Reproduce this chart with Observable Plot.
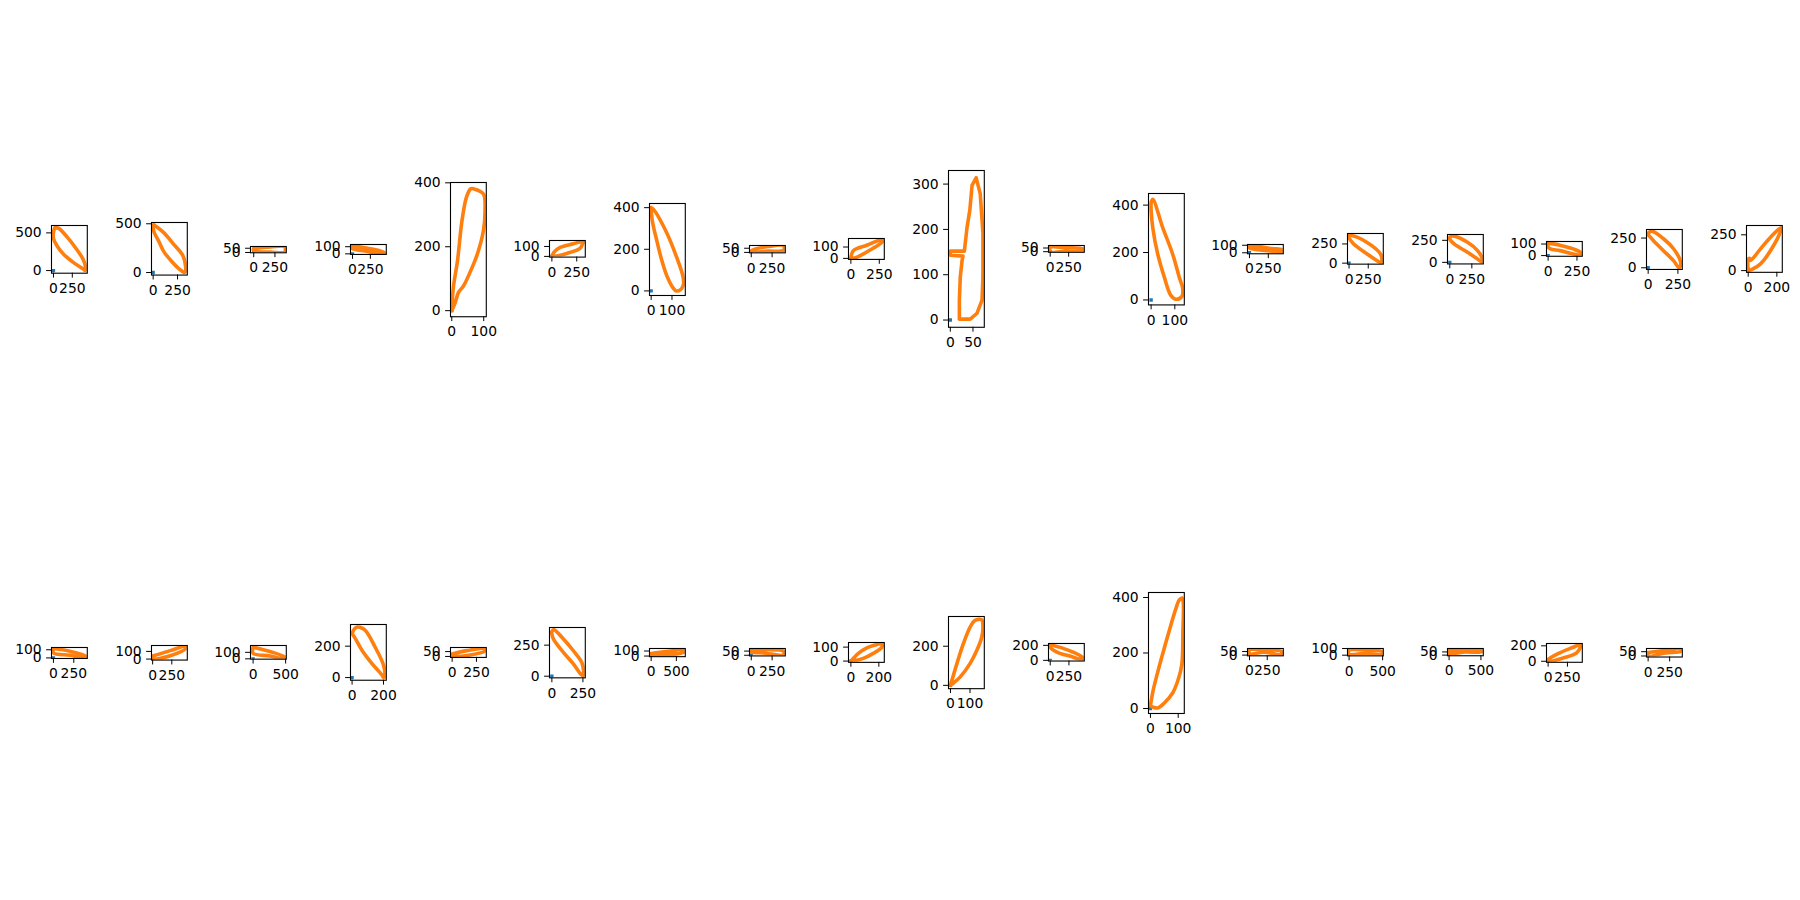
<!DOCTYPE html>
<html><head><meta charset="utf-8">
<script src="https://cdn.jsdelivr.net/npm/d3@7"></script>
<script src="https://cdn.jsdelivr.net/npm/@observablehq/plot@0.6"></script>
<style>
html,body{margin:0;padding:0;background:#fff;}
#chart{position:relative;width:1800px;height:900px;overflow:hidden;background:#fff;}
#chart svg{position:absolute;overflow:visible;max-width:none;}
#chart svg text{font-family:'DejaVu Sans',sans-serif;font-size:13.9px;fill:#000;}
</style></head><body><div id="chart"></div>
<script>
// ---- data: top row loops ----
const loopT01 = [[20,570],[70,560],[177,450],[307,283],[393,150],[427,40],[420,0],[393,22],[263,109],[134,218],[48,326],[0,427],[2,520],[20,570]];
const loopT02 = [[5,490],[111,407],[216,283],[303,177],[333,60],[330,10],[320,0],[268,36],[181,124],[111,212],[59,318],[6,424],[0,470],[5,490]];
const loopT03 = [[0,48],[200,66],[365,67],[365,5],[200,5],[0,22],[0,48]];
const loopT04 = [[0,118],[150,88],[360,50],[450,10],[440,0],[360,8],[150,45],[0,72],[0,118]];
const loopT05 = [[0,0],[5,73],[18,157],[32,282],[46,355],[59,381],[69,381],[99,365],[104,313],[99,250],[80,177],[64,136],[37,78],[21,57],[11,26],[0,0]];
const loopT06 = [[0,0],[20,40],[83,90],[216,127],[320,152],[310,130],[283,80],[150,30],[50,5],[0,0]];
const loopT07 = [[0,400],[11,392],[74,281],[122,163],[153,68],[155,30],[140,5],[120,0],[106,13],[74,76],[51,147],[27,242],[5,340],[0,400]];
const loopT08 = [[0,0],[0,20],[200,70],[387,80],[387,25],[200,15],[0,0]];
const loopT09 = [[0,0],[5,30],[23,70],[140,116],[280,167],[280,150],[169,73],[60,14],[10,0],[0,0]];
const loopT10 = [[20,2],[44,2],[59,15],[70,44],[72,95],[72,191],[66,279],[57,314],[48,297],[43,242],[37,205],[31,152],[0,152],[0,143],[28,141],[26,132],[22,95],[20,44],[20,2]];
const loopT11 = [[0,70],[200,55],[440,40],[440,12],[200,5],[0,0],[0,70]];
const loopT12 = [[0,410],[7,425],[49,305],[91,193],[119,95],[133,50],[130,15],[105,3],[84,18],[56,95],[28,193],[7,305],[0,380],[0,410]];
const loopT13 = [[0,100],[120,85],[300,55],[430,40],[430,5],[300,20],[120,40],[0,65],[0,100]];
const loopT14 = [[0,355],[30,360],[235,270],[410,120],[430,40],[425,5],[368,30],[235,120],[57,253],[0,330],[0,355]];
const loopT15 = [[0,285],[30,300],[201,228],[315,133],[365,50],[362,5],[315,38],[201,114],[49,210],[0,265],[0,285]];
const loopT16 = [[0,110],[102,90],[218,58],[282,25],[282,5],[218,14],[102,43],[20,58],[0,75],[0,110]];
const loopT17 = [[0,290],[29,308],[129,244],[215,158],[270,60],[272,15],[258,2],[215,58],[129,144],[43,230],[0,280],[0,290]];
const loopT18 = [[0,0],[0,80],[10,85],[16,70],[86,152],[156,233],[227,300],[227,280],[156,140],[86,47],[30,10],[0,0]];

// ---- data: bottom row loops ----
const loopB01 = [[0,115],[204,82],[396,22],[396,2],[204,32],[0,62],[0,115]];
const loopB02 = [[0,40],[230,110],[430,165],[430,135],[230,44],[10,0],[0,10],[0,40]];
const loopB03 = [[0,180],[260,112],[490,25],[485,0],[260,45],[0,85],[0,180]];
const loopB04 = [[0,280],[15,310],[35,322],[50,320],[85,300],[149,190],[200,80],[208,10],[200,0],[191,15],[127,89],[64,173],[21,248],[0,280]];
const loopB05 = [[0,25],[151,60],[334,80],[334,55],[151,10],[10,0],[0,5],[0,25]];
const loopB06 = [[0,360],[15,375],[93,299],[173,205],[240,112],[255,45],[252,5],[235,15],[173,99],[93,192],[13,299],[0,340],[0,360]];
const loopB07 = [[0,50],[306,90],[645,120],[645,75],[306,25],[10,0],[0,10],[0,50]];
const loopB08 = [[0,75],[150,68],[387,48],[387,5],[150,28],[0,40],[0,75]];
const loopB09 = [[0,0],[54,55],[114,95],[185,118],[222,125],[222,100],[160,55],[89,19],[20,2],[0,0]];
const loopB10 = [[0,0],[33,111],[66,213],[100,297],[126,332],[160,335],[166,306],[160,246],[135,179],[100,111],[49,42],[7,5],[0,0]];
const loopB11 = [[0,210],[180,157],[360,85],[435,35],[435,10],[270,54],[90,110],[0,175],[0,210]];
const loopB12 = [[0,10],[9,62],[27,134],[50,218],[74,302],[92,361],[104,391],[114,398],[118,385],[117,278],[113,158],[98,98],[80,56],[50,20],[27,2],[9,5],[0,10]];
const loopB13 = [[0,85],[200,80],[450,50],[450,10],[200,40],[0,20],[0,85]];
const loopB14 = [[0,90],[250,75],[490,55],[490,15],[250,30],[0,15],[0,90]];
const loopB15 = [[0,70],[250,85],[510,90],[510,55],[250,50],[0,25],[0,70]];
const loopB16 = [[0,0],[0,20],[152,110],[325,182],[420,220],[420,190],[369,108],[195,43],[30,0],[0,0]];
const loopB17 = [[0,40],[200,65],[380,85],[380,55],[200,35],[0,0],[0,40]];

// blue origin marker
const originPoint = [[0,0]];

// ---- axis domains and tick values ----
const topXDomains = [[-26,449],[-17,350],[-38,384],[-28,473],[-4,108],[-24,336],[-8,164],[-21,408],[-21,294],[-4,75],[-23,462],[-11,140],[-26,449],[-20,446],[-26,380],[-14,296],[-14,287],[-12,238]];
const topYDomains = [[-35,598],[-26,513],[-3.5,70.5],[-8,131],[-19,401],[-7,160],[-22,420],[-5,83],[-9,175],[-16,330],[-8,84],[-21,449],[-13,110],[-13,386],[-18,316],[-6,122],[-14,322],[-12,315]];
const botXDomains = [[-24,416],[-15,452],[-40,510],[-10,218],[-17,351],[-19,269],[-33,677],[-21,408],[-17,239],[-10,173],[-23,455],[-7,122],[-28,476],[-24,510],[-25,537],[-21,442],[-19,397]];
const botYDomains = [[-7,128],[-13,177],[-5,205],[-17,338],[-10,92],[-13,392],[-12,150],[-8,81],[-9,133],[-17,352],[-9,225],[-18,418],[-10,93],[-10,100],[-10,104],[-13,230],[-12,87]];

const topXTicks = [[0,250],[0,250],[0,250],[0,250],[0,100],[0,250],[0,100],[0,250],[0,250],[0,50],[0,250],[0,100],[0,250],[0,250],[0,250],[0,250],[0,250],[0,200]];
const topYTicks = [[0,500],[0,500],[0,50],[0,100],[0,200,400],[0,100],[0,200,400],[0,50],[0,100],[0,100,200,300],[0,50],[0,200,400],[0,100],[0,250],[0,250],[0,100],[0,250],[0,250]];
const botXTicks = [[0,250],[0,250],[0,500],[0,200],[0,250],[0,250],[0,500],[0,250],[0,200],[0,100],[0,250],[0,100],[0,250],[0,500],[0,500],[0,250],[0,250]];
const botYTicks = [[0,100],[0,100],[0,100],[0,200],[0,50],[0,250],[0,100],[0,50],[0,100],[0,200],[0,200],[0,200,400],[0,50],[0,100],[0,50],[0,200],[0,50]];

const topLoops = [loopT01,loopT02,loopT03,loopT04,loopT05,loopT06,loopT07,loopT08,loopT09,loopT10,loopT11,loopT12,loopT13,loopT14,loopT15,loopT16,loopT17,loopT18];
const botLoops = [loopB01,loopB02,loopB03,loopB04,loopB05,loopB06,loopB07,loopB08,loopB09,loopB10,loopB11,loopB12,loopB13,loopB14,loopB15,loopB16,loopB17];

// ---- layout ----
const chart = document.getElementById("chart");
const BOX_W = 35.8, COL0 = 50.8, COL_STEP = 99.7;
const ROW_CY = [248.7, 652];
const M = {l: 50, r: 14, t: 14, b: 34};

function drawPanel(loop, xd, yd, xt, yt, col, row) {
  const boxH = BOX_W * (yd[1] - yd[0]) / (xd[1] - xd[0]);
  const curve = loop === loopT10 ? "linear" : "catmull-rom";
  const svg = Plot.plot({
    width: BOX_W + M.l + M.r,
    height: boxH + M.t + M.b,
    marginLeft: M.l, marginRight: M.r, marginTop: M.t, marginBottom: M.b,
    style: {background: "transparent", fontFamily: "'DejaVu Sans', sans-serif", fontSize: "13.9px", color: "black", overflow: "visible"},
    x: {domain: xd, ticks: xt, tickSize: 4.9, tickPadding: 4.9, label: null, tickFormat: d => String(d)},
    y: {domain: yd, ticks: yt, tickSize: 4.9, tickPadding: 4.9, label: null, tickFormat: d => String(d)},
    marks: [
      Plot.dot(originPoint, {x: d => d[0], y: d => d[1], symbol: "square", r: 1.9, fill: "#1f77b4", stroke: "none", clip: true}),
      Plot.line(loop, {x: d => d[0], y: d => d[1], stroke: "#ff7f0e", strokeWidth: 3.6, curve, clip: true}),
      Plot.frame({stroke: "black", strokeWidth: 1.1})
    ]
  });
  svg.querySelectorAll("text").forEach(t => { t.style.fontSize = "13.9px"; t.style.fontFamily = "'DejaVu Sans', sans-serif"; });
  const left = COL0 + COL_STEP * col;
  svg.style.left = (left - M.l) + "px";
  svg.style.top = (ROW_CY[row] - boxH / 2 - M.t) + "px";
  chart.appendChild(svg);
}

topLoops.forEach((lp, i) => drawPanel(lp, topXDomains[i], topYDomains[i], topXTicks[i], topYTicks[i], i, 0));
botLoops.forEach((lp, i) => drawPanel(lp, botXDomains[i], botYDomains[i], botXTicks[i], botYTicks[i], i, 1));
</script>
</body></html>
